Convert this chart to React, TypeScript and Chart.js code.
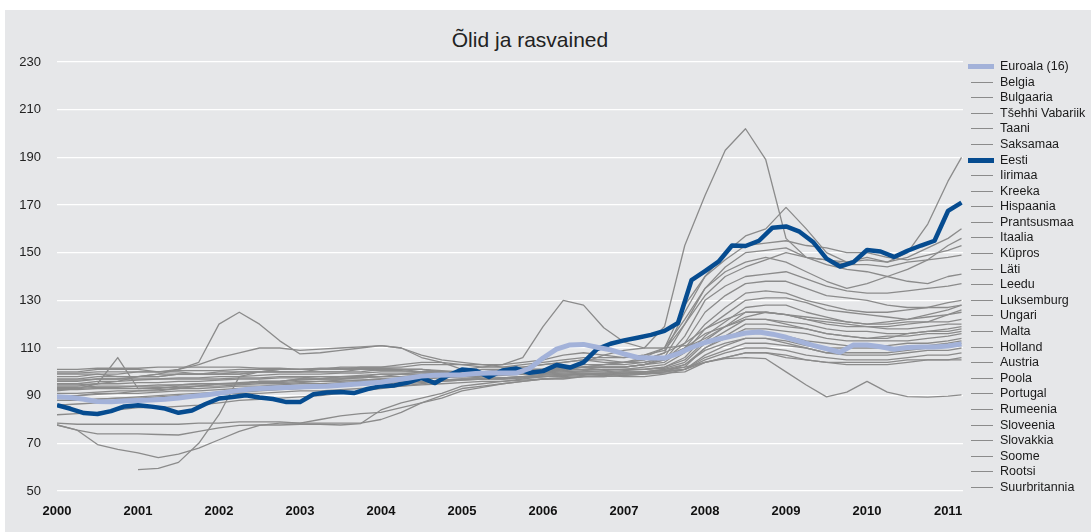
import React, { useEffect, useRef } from "react";
import { Chart, registerables } from "chart.js";

Chart.register(...registerables);

const TITLE = "Õlid ja rasvained";
const YEAR_TICKS = [2000, 2001, 2002, 2003, 2004, 2005, 2006, 2007, 2008, 2009, 2010, 2011];
const Y_TICKS = [50, 70, 90, 110, 130, 150, 170, 190, 210, 230];

// time axis: quarterly (Jan 2000 .. Jan 2011, then Mar 2011) and bi-monthly (Jan 2000 .. Mar 2011)
const Q_TIME = Array.from({ length: 45 }, (_, k) => 2000 + k / 4).concat([2011 + 2 / 12]);
const B_TIME = Array.from({ length: 68 }, (_, k) => 2000 + k / 6);

// bi-monthly series
const EUROALA = [
  89.5, 89.2, 88.5, 87.5, 87.4, 87.8,
  88, 88.2, 88.5, 89, 89.7, 90.3,
  91, 91.8, 92.6, 93, 93.2, 93.4,
  93.6, 93.8, 94, 94.4, 94.8, 95.2,
  95.6, 96.6, 97.3, 98.2, 98.6, 98.7,
  98.8, 99.3, 99.5, 99.5, 99.5, 101.4,
  105.8, 109.5, 111.3, 111.5, 110.3, 109.2,
  107.5, 106, 105.8, 105.8, 107.6, 110.2,
  112.3, 113.8, 115, 116.3, 116.7, 115.8,
  114.5, 112.8, 111.1, 109.7, 108.2, 111.3,
  111.3, 110.5, 109.5, 110.2, 110.4, 110.4,
  110.8, 111.7,
];
const EESTI = [
  86, 84.5, 82.7, 82.3, 83.5, 85.5,
  86, 85.4, 84.6, 82.8, 83.8, 86.5,
  88.8, 89.4, 90.2, 89.2, 88.6, 87.3,
  87.3, 90.6, 91.3, 91.5, 91.1, 92.8,
  94, 94.3, 95.5, 97.5, 95.3, 98.5,
  101, 100.5, 97.8, 100.6, 101.4, 99.6,
  100.3, 102.9, 101.8, 104, 109.5, 111.8,
  113.2, 114.3, 115.5, 117.2, 120.5, 138.5,
  142.3, 146.2, 153, 152.8, 155, 160.5,
  161, 158.8, 154.5, 147.5, 144.2, 146,
  151.1, 150.5, 148.2, 150.8, 153, 155,
  167.5, 171,
];

// quarterly series
const BELGIA = [
  101, 101, 101.5, 101.5, 101.5, 102, 102, 102, 102, 102, 101.5, 101.5,
  101, 101, 101, 101, 100.5, 100.5, 100, 100, 100, 100, 100.5, 101,
  101, 101.5, 102, 103, 104, 105, 108, 112, 118, 122, 125, 125,
  124, 122, 121, 120, 119, 119, 120, 121, 124, 126,
];
const BULGAARIA = [
  null, null, null, null, 59, 59.5, 62, 70, 82, 98, 100, 101,
  101, 101, 101, 102, 102, 102, 103, 103, 103, 103, 102, 102,
  103, 104, 105, 104, 104, 106, 110, 122, 135, 142, 146, 148,
  146, 142, 138, 135, 137, 140, 143, 147, 153, 156,
];
const TSEHHI = [
  97, 97, 98, 98, 98, 99, 99, 99, 99, 99, 100, 100,
  100, 100, 100, 101, 101, 101, 101, 100, 100, 100, 100, 101,
  101, 101, 102, 102, 102, 103, 105, 112, 125, 132, 137, 138,
  138, 135, 132, 131, 130, 128, 127, 127, 129, 130,
];
const TAANI = [
  88, 88, 88.5, 89, 89, 89.5, 90, 90, 90.5, 91, 91, 91.5,
  92, 92, 92.5, 93, 93.5, 94, 94.5, 95, 95.5, 96, 96, 96.5,
  97, 97.5, 98, 98, 98.5, 99, 100, 103, 109, 112, 114, 114,
  112, 110, 108, 108, 108, 108, 109, 110, 111, 112,
];
const SAKSAMAA = [
  93.5, 93.5, 94, 94, 94, 94.5, 94.5, 95, 95, 95, 95.5, 95.5,
  96, 96, 96.5, 96.5, 97, 97, 97.5, 98, 98, 98.5, 99, 99,
  99, 99, 99.5, 99.5, 100, 100, 101, 102, 104, 106, 108, 108,
  106, 105, 104, 104, 104, 104, 105, 105, 105, 105,
];
const IIRIMAA = [
  99.5, 99.5, 100, 100, 100, 100, 100.5, 100.5, 100.5, 101, 101, 101,
  101, 101.5, 101.5, 101.5, 101.5, 101, 101, 100.5, 100, 100, 100, 100.5,
  101, 101.5, 102, 102, 102, 103, 106, 110, 116, 119, 122, 122,
  120, 118, 116, 115, 114, 114, 116, 117, 118, 119,
];
const KREEKA = [
  90, 90, 90.5, 91, 91, 91.5, 92, 92, 92.5, 93, 93, 93.5,
  94, 94, 94.5, 95, 95.5, 96, 96, 96.5, 97, 97, 97.5, 98,
  98.5, 99, 99, 99.5, 100, 100, 101, 103, 110, 115, 120, 120,
  119, 118, 116, 115, 114, 115, 115, 116, 116, 117,
];
const HISPAANIA = [
  86, 86.5, 87, 87.5, 88, 88.5, 89, 90, 91, 91.5, 92, 92.5,
  93, 93.5, 94, 94.5, 95, 95.5, 96, 96.5, 97, 97, 97.5, 98,
  99, 101, 104, 107, 109, 110, 110, 111, 112, 114, 116, 116,
  115, 113, 112, 111, 111, 111, 112, 112, 113, 114,
];
const PRANTSUSMAA = [
  92.5, 92.5, 93, 93, 93, 93.5, 93.5, 94, 94, 94.5, 95, 95,
  95.5, 96, 96, 96.5, 97, 97, 97.5, 98, 98, 98.5, 99, 99,
  99.5, 100, 100, 100.5, 101, 101, 102, 105, 113, 119, 125, 125,
  124, 122, 120, 119, 119, 118, 118, 119, 120, 120,
];
const ITAALIA = [
  91, 91, 91.5, 92, 92, 92.5, 93, 93, 93.5, 94, 94, 94.5,
  95, 95, 95.5, 96, 96.5, 97, 97, 97.5, 98, 98, 98.5, 99,
  99, 99.5, 100, 100, 100.5, 101, 101.5, 104, 112, 117, 122, 122,
  121, 120, 118, 117, 117, 116, 116, 117, 117, 118,
];
const KYPROS = [
  98, 98, 99, 99, 100, 100, 101, 103, 106, 108, 110, 110,
  109, 109.5, 110, 110.5, 111, 110, 106, 104, 103, 102, 102, 103,
  104, 105, 106, 106, 106, 107, 109, 120, 132, 140, 144, 147,
  150, 148, 147, 145, 145, 144, 146, 147, 148, 149,
];
const LATI = [
  96, 96, 97, 97, 98, 98, 99, 99, 100, 100, 100, 101,
  101, 101, 102, 102, 102, 103, 104, 104, 101, 102, 103, 106,
  119, 130, 128, 118.5, 112.5, 110, 119, 153, 174, 193, 202, 189,
  156, 148, 147, 146, 148, 146, 150, 162, 180, 190,
];
const LEEDU = [
  90, 90, 91, 91, 92, 92, 93, 94, 95, 95, 96, 96,
  97, 97, 98, 98, 99, 99, 100, 100, 100, 101, 101, 102,
  103, 104, 105, 105, 104, 105, 108, 125, 140, 150, 157, 160,
  169, 160, 150, 146, 147, 146, 148, 152, 156, 160,
];
const LUKSEMBURG = [
  96.5, 96.5, 97, 97, 97, 97, 97.5, 97.5, 98, 98, 98.5, 99,
  99, 99, 99.5, 99.5, 100, 100, 100, 100, 100, 100, 100, 100,
  100, 101, 101, 102, 102, 103, 104, 110, 120, 127, 133, 134,
  133, 130, 128, 126, 125, 125, 126, 127, 127, 128,
];
const UNGARI = [
  94, 94, 95, 96, 98, 99, 101, 104, 120, 125, 120, 113,
  107.5, 108, 109, 110, 111, 110, 107, 105, 104, 103, 103, 104,
  105, 107, 108, 107, 106, 107, 110, 128, 140, 147, 153, 154,
  155, 153, 152, 150, 150, 148, 147, 149, 151, 153,
];
const MALTA = [
  92, 93, 95, 106, 93, 93, 94, 94, 95, 95, 96, 96,
  97, 97, 97, 98, 98, 99, 99, 100, 100, 100, 99, 100,
  101, 102, 103, 103, 104, 104, 106, 110, 114, 119, 123, 125,
  124, 123, 122, 121, 120, 121, 122, 124, 126, 128,
];
const HOLLAND = [
  93, 93, 93.5, 93.5, 94, 94, 94.5, 95, 95, 95.5, 96, 96,
  96.5, 97, 97, 97.5, 98, 98, 98.5, 99, 99, 99, 99.5, 100,
  100, 100, 100.5, 101, 101, 101, 102, 106, 115, 121, 127, 128,
  128, 125, 123, 121, 120, 120, 121, 121, 121, 122,
];
const AUSTRIA = [
  94.5, 94.5, 95, 95, 95.5, 95.5, 96, 96, 96.5, 97, 97, 97.5,
  97.5, 98, 98, 98.5, 99, 99, 99, 99.5, 99.5, 99.5, 100, 100,
  100, 100.5, 101, 101, 101, 102, 103, 108, 118, 124, 130, 131,
  131, 129, 126, 125, 124, 123, 122, 123, 124, 125,
];
const POOLA = [
  100, 100, 101, 101, 101, 100, 100, 99, 99, 99, 100, 100,
  100, 100, 100, 100, 101, 101, 101, 100, 100, 100, 101, 101,
  101, 102, 102, 103, 103, 104, 106, 120, 135, 144, 150, 151,
  152, 148, 145, 143, 142, 140, 138, 137, 140, 141,
];
const PORTUGAL = [
  88, 88, 88.5, 89, 89.5, 90, 90.5, 91, 91.5, 92, 92.5, 93,
  93.5, 94, 94, 94.5, 95, 95, 95.5, 96, 96.5, 97, 97, 97.5,
  98, 98.5, 99, 99, 99.5, 100, 100.5, 102, 110, 114, 118, 118,
  117, 116, 114, 113, 113, 113, 113, 114, 115, 116,
];
const RUMEENIA = [
  77.7, 75.5, 69.5, 67.5, 66, 64, 65.5, 68, 71.5, 75, 77.5, 78.5,
  78.5, 78.5, 78.5, 78.5, 80, 83, 87, 90, 93, 94, 95, 96,
  97, 97, 98, 98, 98.5, 99, 99.5, 100, 104, 106, 108, 108,
  107, 105, 104, 103, 103, 103, 104, 105, 105, 106,
];
const SLOVEENIA = [
  82, 82.5, 83, 84, 85, 85, 85.5, 86, 87, 88, 88.5, 89,
  89.5, 90, 91, 92, 93, 94, 95, 96, 96.5, 97, 97, 97.5,
  98, 98.5, 99, 99, 99, 99.5, 100, 101, 107, 111, 114, 114,
  113, 111, 110, 110, 110, 110, 110, 111, 112, 113,
];
const SLOVAKKIA = [
  99, 99, 99, 98, 98, 98, 99, 99, 99, 100, 100, 100,
  100, 101, 101, 101, 101, 101, 100, 100, 99, 99, 100, 100,
  100, 101, 102, 102, 102, 103, 105, 115, 130, 136, 140, 141,
  142, 139, 136, 134, 133, 133, 134, 135, 136, 137,
];
const SOOME = [
  78.5, 78, 78, 78, 78, 78, 78, 78.5, 78.5, 79, 79, 79,
  78.5, 80, 81.5, 82.5, 83, 85, 87, 89, 92, 93.5, 95, 96,
  97, 97.5, 98, 98.5, 99.5, 100, 100.5, 101, 106, 109, 112, 112,
  111, 110, 108, 107, 107, 107, 108, 109, 109, 110,
];
const ROOTSI = [
  77.7, 75.5, 74, 74, 74, 73.7, 73.5, 75, 76.5, 77.5, 77.7, 77.7,
  78, 78, 77.7, 78.3, 84, 87, 89, 91, 94, 95, 96, 97,
  98, 98, 98.5, 99, 99, 99.5, 100, 101, 105, 108, 110, 110,
  109, 107, 106, 105, 105, 105, 106, 107, 107, 108,
];
const SUURBRITANNIA = [
  95, 95, 96, 96, 96.5, 97, 97, 97, 97, 97.5, 97.5, 98,
  98, 98, 97.5, 97.5, 98, 98, 98.5, 98.5, 98, 97.5, 97.5, 98,
  98, 98.5, 99, 98.5, 98, 98, 99, 101, 104, 105.5, 106, 105.5,
  100, 94.5, 89.5, 91.5, 96, 91.5, 89.6, 89.4, 89.8, 90.3,
];

const EA_COLOR = "#a3b2d9";
const EE_COLOR = "#064c90";
const GRAY = "#8b8b8b";

type Series = { name: string; values: (number | null)[]; time: number[]; kind: "ea" | "ee" | "gray" };

const SERIES: Series[] = [
  { name: "Euroala (16)", values: EUROALA, time: B_TIME, kind: "ea" },
  { name: "Belgia", values: BELGIA, time: Q_TIME, kind: "gray" },
  { name: "Bulgaaria", values: BULGAARIA, time: Q_TIME, kind: "gray" },
  { name: "Tšehhi Vabariik", values: TSEHHI, time: Q_TIME, kind: "gray" },
  { name: "Taani", values: TAANI, time: Q_TIME, kind: "gray" },
  { name: "Saksamaa", values: SAKSAMAA, time: Q_TIME, kind: "gray" },
  { name: "Eesti", values: EESTI, time: B_TIME, kind: "ee" },
  { name: "Iirimaa", values: IIRIMAA, time: Q_TIME, kind: "gray" },
  { name: "Kreeka", values: KREEKA, time: Q_TIME, kind: "gray" },
  { name: "Hispaania", values: HISPAANIA, time: Q_TIME, kind: "gray" },
  { name: "Prantsusmaa", values: PRANTSUSMAA, time: Q_TIME, kind: "gray" },
  { name: "Itaalia", values: ITAALIA, time: Q_TIME, kind: "gray" },
  { name: "Küpros", values: KYPROS, time: Q_TIME, kind: "gray" },
  { name: "Läti", values: LATI, time: Q_TIME, kind: "gray" },
  { name: "Leedu", values: LEEDU, time: Q_TIME, kind: "gray" },
  { name: "Luksemburg", values: LUKSEMBURG, time: Q_TIME, kind: "gray" },
  { name: "Ungari", values: UNGARI, time: Q_TIME, kind: "gray" },
  { name: "Malta", values: MALTA, time: Q_TIME, kind: "gray" },
  { name: "Holland", values: HOLLAND, time: Q_TIME, kind: "gray" },
  { name: "Austria", values: AUSTRIA, time: Q_TIME, kind: "gray" },
  { name: "Poola", values: POOLA, time: Q_TIME, kind: "gray" },
  { name: "Portugal", values: PORTUGAL, time: Q_TIME, kind: "gray" },
  { name: "Rumeenia", values: RUMEENIA, time: Q_TIME, kind: "gray" },
  { name: "Sloveenia", values: SLOVEENIA, time: Q_TIME, kind: "gray" },
  { name: "Slovakkia", values: SLOVAKKIA, time: Q_TIME, kind: "gray" },
  { name: "Soome", values: SOOME, time: Q_TIME, kind: "gray" },
  { name: "Rootsi", values: ROOTSI, time: Q_TIME, kind: "gray" },
  { name: "Suurbritannia", values: SUURBRITANNIA, time: Q_TIME, kind: "gray" },
];

const FONT = "'Liberation Sans', Arial, Helvetica, sans-serif";

function styleOf(kind: Series["kind"]) {
  if (kind === "ea") return { color: EA_COLOR, width: 5, order: 0 };
  if (kind === "ee") return { color: EE_COLOR, width: 4.5, order: 1 };
  return { color: GRAY, width: 1.3, order: 2 };
}

export default function App() {
  const ref = useRef<HTMLCanvasElement>(null);

  useEffect(() => {
    const canvas = ref.current;
    if (!canvas) return;
    Chart.defaults.font.family = FONT;
    const datasets = SERIES.map((s) => {
      const st = styleOf(s.kind);
      return {
        label: s.name,
        data: s.values.map((v, i) => ({ x: s.time[i], y: v })),
        borderColor: st.color,
        backgroundColor: st.color,
        borderWidth: st.width,
        order: st.order,
        pointRadius: 0,
        tension: 0,
        fill: false,
        borderJoinStyle: "round" as const,
        spanGaps: false,
      };
    });
    const chart = new Chart(canvas, {
      type: "line",
      data: { datasets: datasets as any },
      options: {
        responsive: false,
        animation: false,
        events: [],
        layout: { padding: { left: 0, right: 128, top: 62, bottom: 0 } },
        plugins: {
          legend: { display: false },
          title: { display: false },
          tooltip: { enabled: false },
        },
        scales: {
          x: {
            type: "linear",
            min: 2000,
            max: 2011.185,
            grid: { display: false },
            border: { display: false },
            afterBuildTicks: (s: any) => {
              s.ticks = YEAR_TICKS.map((v) => ({ value: v }));
            },
            afterFit: (s: any) => {
              s.height = 41;
            },
            ticks: {
              padding: 5,
              color: "#111",
              autoSkip: false,
              maxRotation: 0,
              font: { size: 13, weight: "bold" },
              callback: (v: any) => String(v),
            },
          },
          y: {
            type: "linear",
            min: 50,
            max: 230,
            grid: { color: "#ffffff", lineWidth: 1.3, drawTicks: false },
            border: { display: false },
            afterBuildTicks: (s: any) => {
              s.ticks = Y_TICKS.map((v) => ({ value: v }));
            },
            afterFit: (s: any) => {
              s.width = 57;
            },
            ticks: {
              padding: 16,
              color: "#222",
              font: { size: 13 },
              callback: (v: any) => String(v),
            },
          },
        },
      },
    });
    return () => chart.destroy();
  }, []);

  return (
    <div style={{ position: "absolute", left: 0, top: 0, width: 1091, height: 532, background: "#ffffff", overflow: "hidden", fontFamily: FONT }}>
      <div style={{ position: "absolute", left: 5, top: 10, width: 1086, height: 522, background: "#e6e7e9" }} />
      <div style={{ position: "absolute", left: 330, width: 400, top: 28, textAlign: "center", fontSize: 21, lineHeight: "24px", color: "#222" }}>
        {TITLE}
      </div>
      <canvas ref={ref} width={1091} height={532} style={{ position: "absolute", left: 0, top: 0, width: 1091, height: 532 }} />
      {SERIES.map((s, i) => {
        const st = styleOf(s.kind);
        const thick = s.kind !== "gray";
        const cy = Math.round(66 + i * 15.59);
        return (
          <React.Fragment key={s.name}>
            <div
              style={{
                position: "absolute",
                left: thick ? 968 : 971,
                width: thick ? 26 : 22,
                top: thick ? cy - 2 : cy,
                height: thick ? 5 : 1,
                background: st.color,
              }}
            />
            <div
              style={{
                position: "absolute",
                left: 1000,
                top: cy - 8,
                height: 16,
                lineHeight: "16px",
                fontSize: 12.5,
                color: "#1a1a1a",
                whiteSpace: "nowrap",
              }}
            >
              {s.name}
            </div>
          </React.Fragment>
        );
      })}
    </div>
  );
}
